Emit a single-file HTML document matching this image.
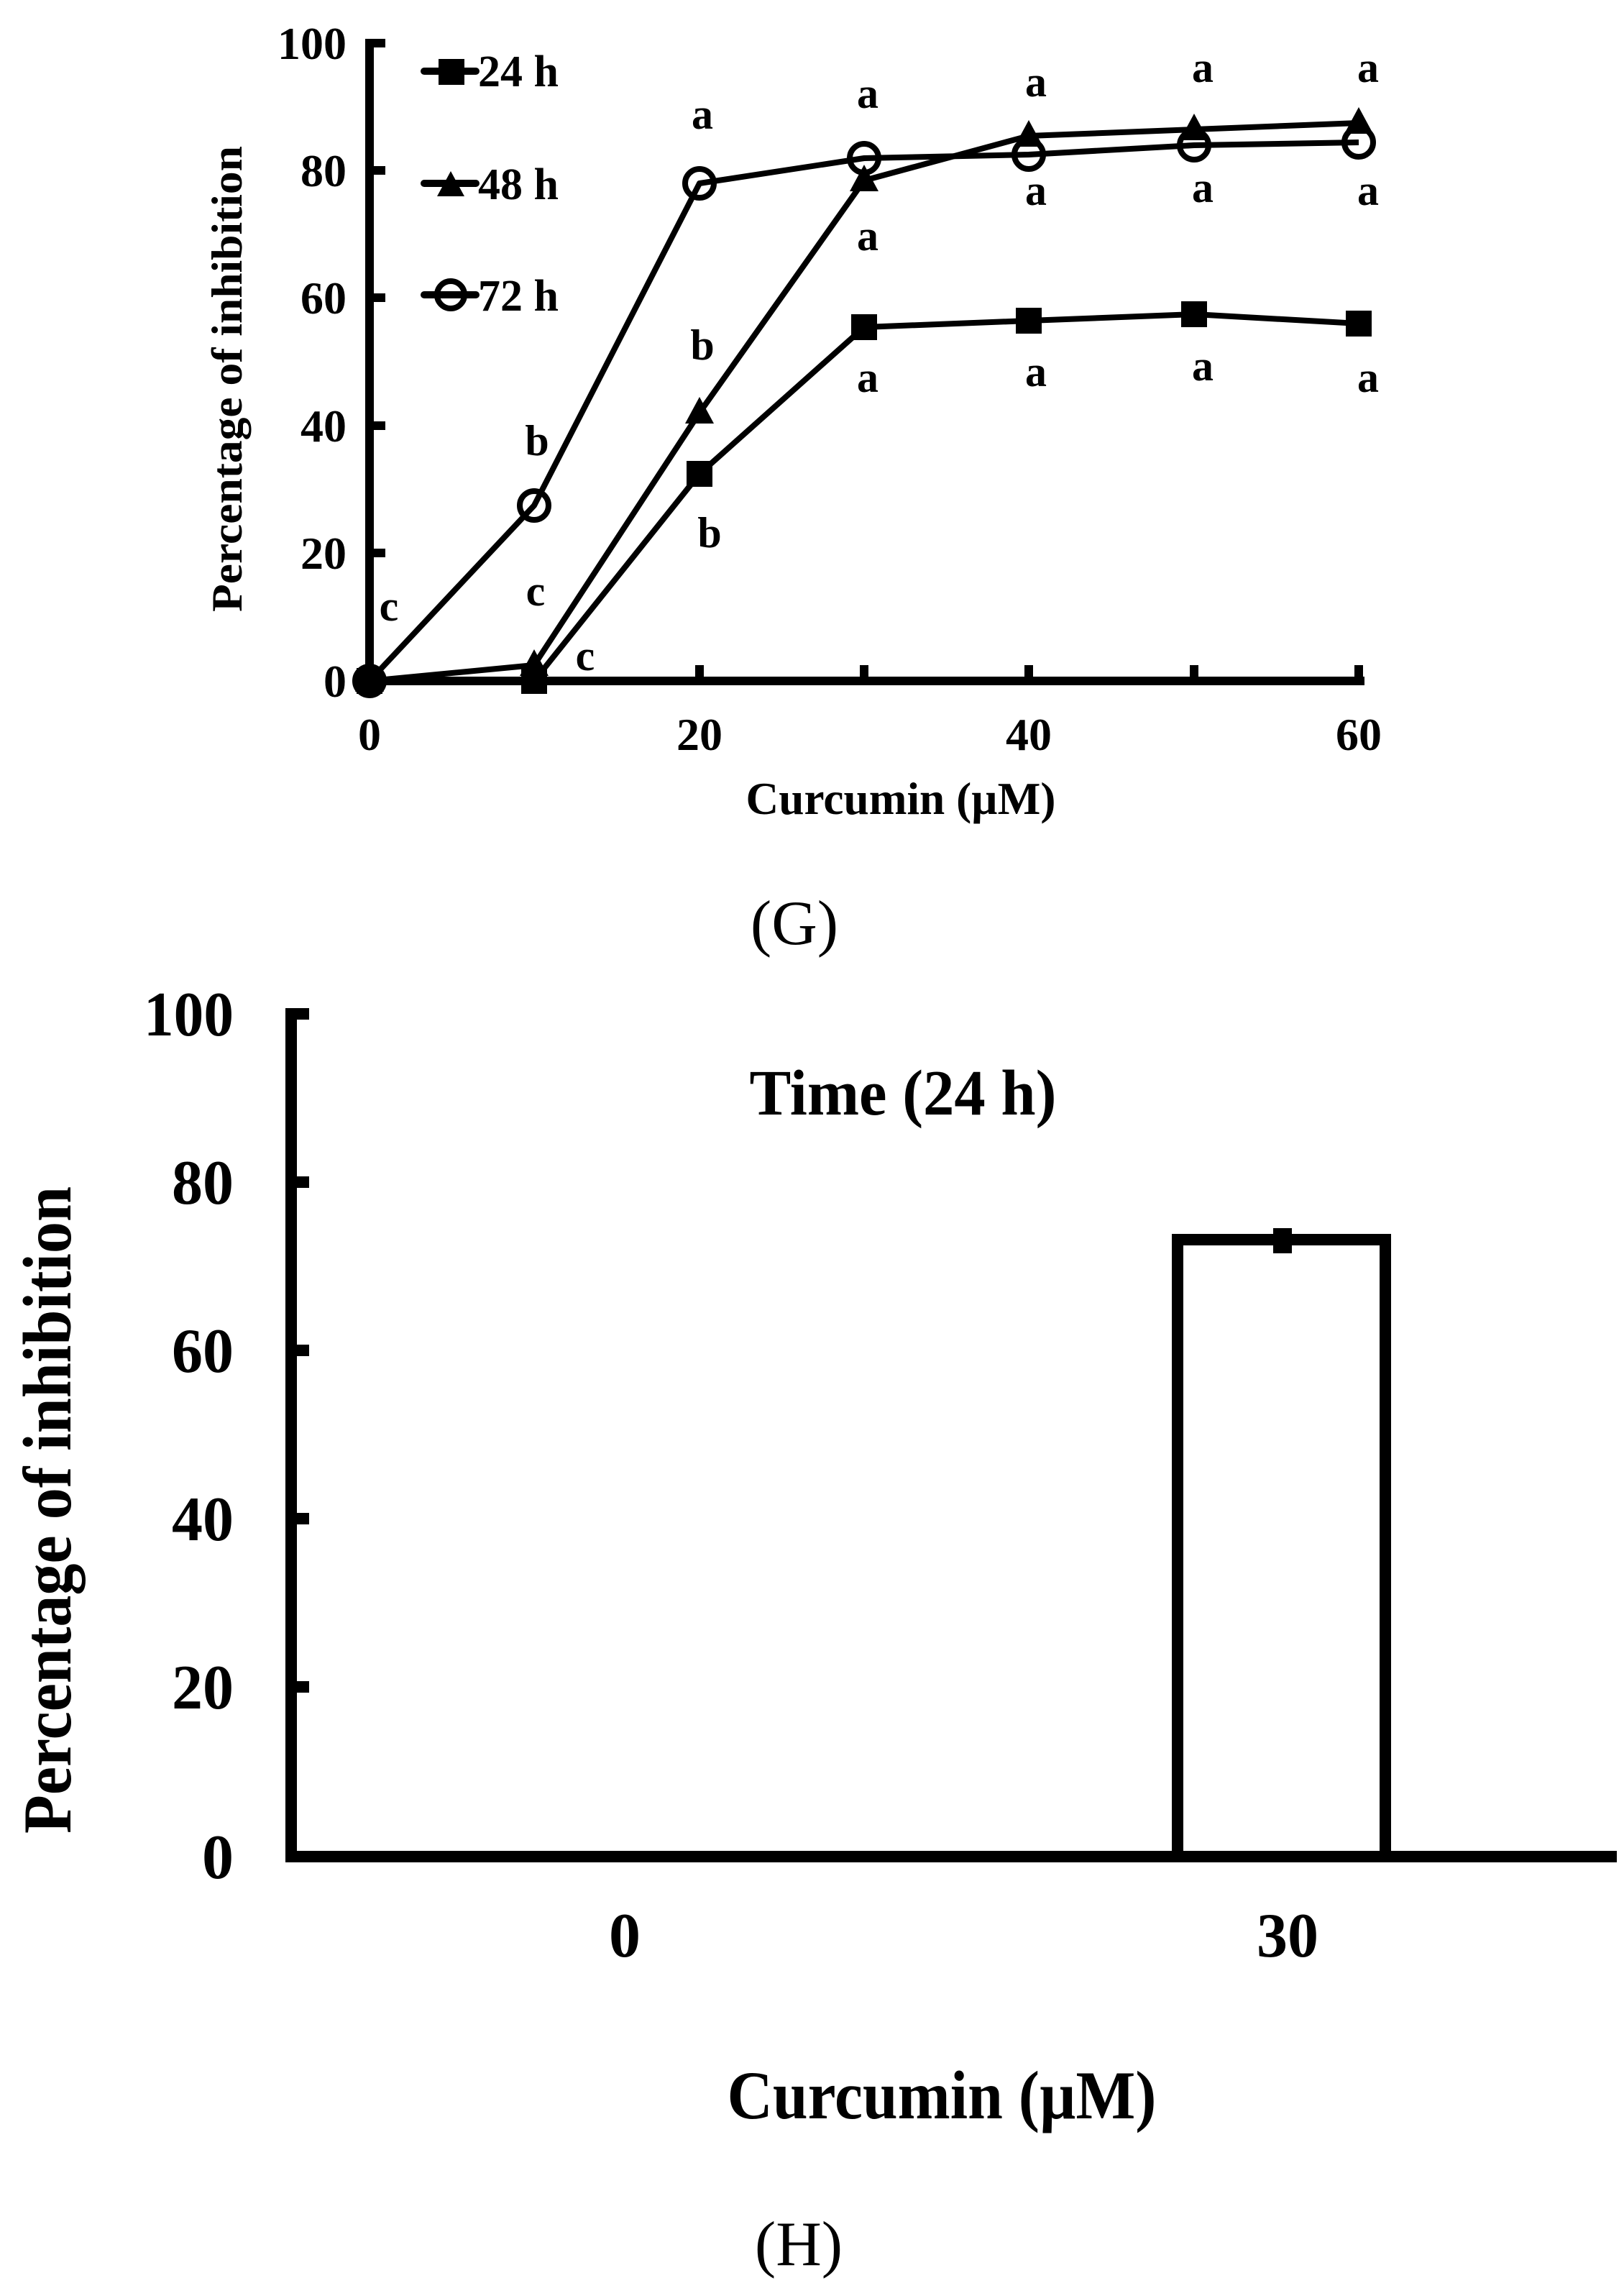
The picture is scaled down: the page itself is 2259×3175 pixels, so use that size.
<!DOCTYPE html>
<html><head><meta charset="utf-8"><style>
html,body{margin:0;padding:0;background:#fff;}
svg{display:block;}
text{font-family:"Liberation Serif",serif;fill:#000;}
.b{font-weight:bold;}
</style></head><body>
<svg width="2259" height="3175" viewBox="0 0 2259 3175" xmlns="http://www.w3.org/2000/svg">
<!-- Chart G -->
<g stroke="#000" stroke-width="12" fill="none" stroke-linecap="square">
<line x1="514" y1="60" x2="514" y2="947"/>
<line x1="514" y1="947" x2="1892" y2="947"/>
<line x1="514" y1="60" x2="530" y2="60"/>
<line x1="514" y1="237" x2="530" y2="237"/>
<line x1="514" y1="414" x2="530" y2="414"/>
<line x1="514" y1="592" x2="530" y2="592"/>
<line x1="514" y1="769" x2="530" y2="769"/>
<line x1="973" y1="947" x2="973" y2="931"/>
<line x1="1202" y1="947" x2="1202" y2="931"/>
<line x1="1431" y1="947" x2="1431" y2="931"/>
<line x1="1661" y1="947" x2="1661" y2="931"/>
<line x1="1890" y1="947" x2="1890" y2="931"/>
</g>
<g class="b" font-size="64" text-anchor="end">
<text x="482" y="82" class="b">100</text>
<text x="482" y="259" class="b">80</text>
<text x="482" y="436" class="b">60</text>
<text x="482" y="614" class="b">40</text>
<text x="482" y="791" class="b">20</text>
<text x="482" y="969" class="b">0</text>
</g>
<g font-size="64" text-anchor="middle">
<text x="514" y="1043" class="b">0</text>
<text x="973" y="1043" class="b">20</text>
<text x="1431" y="1043" class="b">40</text>
<text x="1890" y="1043" class="b">60</text>
</g>
<text x="1253" y="1132" font-size="64" class="b" text-anchor="middle" textLength="431" lengthAdjust="spacingAndGlyphs">Curcumin (µM)</text>
<text transform="translate(336,851) rotate(-90)" font-size="60" class="b" textLength="648" lengthAdjust="spacingAndGlyphs">Percentage of inhibition</text>
<text x="1105" y="1313" font-size="88" text-anchor="middle">(G)</text>

<!-- series -->
<g stroke="#000" stroke-width="8" fill="none" stroke-linejoin="round">
<polyline points="514,947 743,947 973,659 1202,455 1431,446 1661,437 1890,450"/>
<polyline points="514,947 743,925 973,574 1202,251 1431,189 1661,180 1890,171"/>
<polyline points="514,947 743,703 973,255 1202,220 1431,215 1661,202 1890,198"/>
</g>
<g fill="#000">
<rect x="496" y="929" width="36" height="36"/>
<rect x="725" y="929" width="36" height="36"/>
<rect x="955" y="641" width="36" height="36"/>
<rect x="1184" y="437" width="36" height="36"/>
<rect x="1413" y="428" width="36" height="36"/>
<rect x="1643" y="419" width="36" height="36"/>
<rect x="1872" y="432" width="36" height="36"/>
<polygon points="514,925 534,962 494,962"/>
<polygon points="743,903 763,940 723,940"/>
<polygon points="973,552 993,589 953,589"/>
<polygon points="1202,229 1222,266 1182,266"/>
<polygon points="1431,167 1451,204 1411,204"/>
<polygon points="1661,158 1681,195 1641,195"/>
<polygon points="1890,149 1910,186 1870,186"/>
</g>
<g stroke="#000" stroke-width="8" fill="none">
<circle cx="514" cy="947" r="20"/>
<circle cx="743" cy="703" r="20"/>
<circle cx="973" cy="255" r="20"/>
<circle cx="1202" cy="220" r="20"/>
<circle cx="1431" cy="215" r="20"/>
<circle cx="1661" cy="202" r="20"/>
<circle cx="1890" cy="198" r="20"/>
</g>
<!-- letters -->
<g font-size="60" text-anchor="middle" class="b">
<text x="541" y="863" class="b">c</text>
<text x="745" y="842" class="b">c</text>
<text x="814" y="932" class="b">c</text>
<text x="747" y="633" class="b">b</text>
<text x="977" y="500" class="b">b</text>
<text x="987" y="761" class="b">b</text>
<text x="977" y="179" class="b">a</text>
<text x="1207" y="150" class="b">a</text>
<text x="1207" y="348" class="b">a</text>
<text x="1207" y="545" class="b">a</text>
<text x="1441" y="134" class="b">a</text>
<text x="1441" y="285" class="b">a</text>
<text x="1441" y="537" class="b">a</text>
<text x="1673" y="114" class="b">a</text>
<text x="1673" y="281" class="b">a</text>
<text x="1673" y="529" class="b">a</text>
<text x="1903" y="114" class="b">a</text>
<text x="1903" y="285" class="b">a</text>
<text x="1903" y="545" class="b">a</text>
</g>
<!-- legend -->
<g stroke="#000" stroke-width="10" stroke-linecap="round">
<line x1="590" y1="99" x2="662" y2="99"/>
<line x1="590" y1="255" x2="662" y2="255"/>
<line x1="590" y1="410" x2="662" y2="410"/>
</g>
<rect x="610" y="82" width="36" height="36" fill="#000"/>
<polygon points="627,238 646,273 608,273" fill="#000"/>
<circle cx="627" cy="410" r="19" stroke="#000" stroke-width="8" fill="none"/>
<g font-size="62" class="b">
<text x="665" y="120" class="b" textLength="112" lengthAdjust="spacingAndGlyphs">24 h</text>
<text x="665" y="277" class="b" textLength="112" lengthAdjust="spacingAndGlyphs">48 h</text>
<text x="665" y="432" class="b" textLength="112" lengthAdjust="spacingAndGlyphs">72 h</text>
</g>

<!-- Chart H -->
<g stroke="#000" stroke-width="16" fill="none">
<line x1="405" y1="1402" x2="405" y2="2590"/>
<line x1="397" y1="2582" x2="2249" y2="2582"/>
<line x1="405" y1="1410" x2="430" y2="1410"/>
<line x1="405" y1="1644" x2="430" y2="1644"/>
<line x1="405" y1="1878" x2="430" y2="1878"/>
<line x1="405" y1="2112" x2="430" y2="2112"/>
<line x1="405" y1="2346" x2="430" y2="2346"/>
<rect x="1638" y="1724" width="289" height="858"/>
</g>
<rect x="1771" y="1708" width="26" height="35" fill="#000"/>
<g font-size="88" text-anchor="end">
<text x="325" y="1440" class="b" textLength="125" lengthAdjust="spacingAndGlyphs">100</text>
<text x="325" y="1674" class="b" textLength="86" lengthAdjust="spacingAndGlyphs">80</text>
<text x="325" y="1908" class="b" textLength="86" lengthAdjust="spacingAndGlyphs">60</text>
<text x="325" y="2142" class="b" textLength="86" lengthAdjust="spacingAndGlyphs">40</text>
<text x="325" y="2376" class="b" textLength="86" lengthAdjust="spacingAndGlyphs">20</text>
<text x="325" y="2612" class="b">0</text>
</g>
<text x="1256" y="1550" font-size="90" class="b" text-anchor="middle" textLength="427" lengthAdjust="spacingAndGlyphs">Time (24 h)</text>
<text x="869" y="2721" font-size="88" class="b" text-anchor="middle">0</text>
<text x="1791" y="2721" font-size="88" class="b" text-anchor="middle" textLength="86" lengthAdjust="spacingAndGlyphs">30</text>
<text x="1310" y="2946" font-size="95" class="b" text-anchor="middle" textLength="597" lengthAdjust="spacingAndGlyphs">Curcumin (µM)</text>
<text transform="translate(98,2550) rotate(-90)" font-size="95" class="b" textLength="900" lengthAdjust="spacingAndGlyphs">Percentage of inhibition</text>
<text x="1111" y="3150" font-size="88" text-anchor="middle">(H)</text>
</svg>
</body></html>
